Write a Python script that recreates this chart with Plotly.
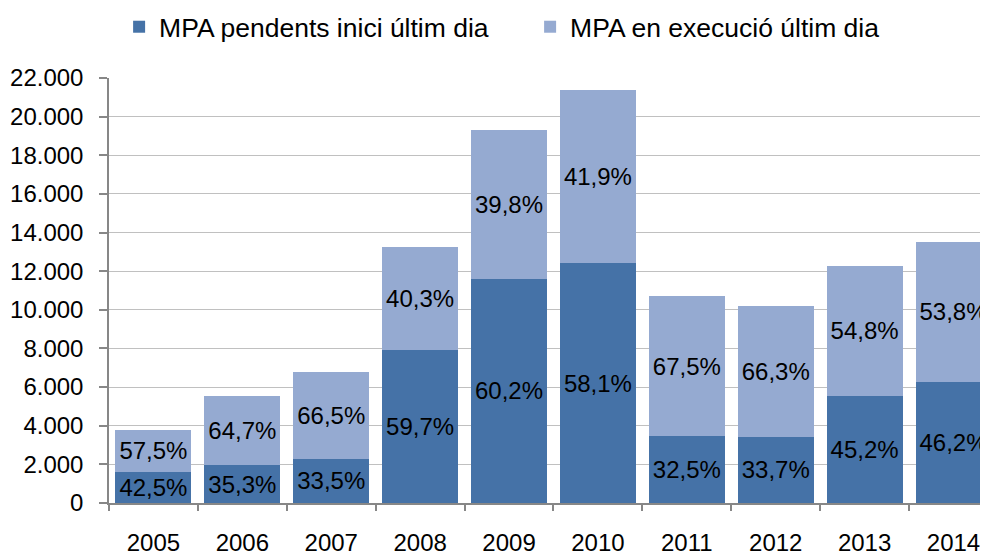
import plotly.graph_objects as go

years = ["2005", "2006", "2007", "2008", "2009", "2010", "2011", "2012", "2013", "2014"]
pendents = [1610, 1960, 2280, 7900, 11620, 12410, 3480, 3440, 5550, 6250]
execucio = [2170, 3580, 4520, 5330, 7690, 8950, 7220, 6780, 6720, 7280]
pct_pendents = ["42,5%", "35,3%", "33,5%", "59,7%", "60,2%", "58,1%", "32,5%", "33,7%", "45,2%", "46,2%"]
pct_execucio = ["57,5%", "64,7%", "66,5%", "40,3%", "39,8%", "41,9%", "67,5%", "66,3%", "54,8%", "53,8%"]
y_ticks = [0, 2000, 4000, 6000, 8000, 10000, 12000, 14000, 16000, 18000, 20000, 22000]

FONT = "Liberation Sans, Arial, sans-serif"

fig = go.Figure()
fig.add_trace(go.Bar(
    x=years, y=pendents, name="MPA pendents inici últim dia",
    marker=dict(color="#4572A7", line=dict(width=0)),
    text=pct_pendents, textposition="inside", insidetextanchor="middle",
    textfont=dict(family=FONT, size=24, color="#000000"),
    hoverinfo="x+y",
))
fig.add_trace(go.Bar(
    x=years, y=execucio, name="MPA en execució últim dia",
    marker=dict(color="#95AAD1", line=dict(width=0)),
    text=pct_execucio, textposition="inside", insidetextanchor="middle",
    textfont=dict(family=FONT, size=24, color="#000000"),
    hoverinfo="x+y",
))

# the page body adds an 8px margin, so the figure is 8px smaller on each side
fig.update_layout(
    width=980, height=546,
    barmode="stack", bargap=0.145,
    plot_bgcolor="#FFFFFF", paper_bgcolor="#FFFFFF",
    margin=dict(l=101, r=0, t=70, b=51, autoexpand=False),
    separators=",.",
    font=dict(family=FONT, size=24, color="#000000"),
    uniformtext=dict(minsize=24, mode="show"),
    showlegend=True,
    legend=dict(
        orientation="h", x=0.0115, xanchor="left", y=1.12, yanchor="middle",
        entrywidth=366, entrywidthmode="pixels",
        font=dict(family=FONT, size=26.5, color="#000000"),
        bgcolor="rgba(0,0,0,0)", traceorder="normal",
    ),
    xaxis=dict(
        type="category", range=[-0.5, 9.388],
        showline=True, linecolor="#878787", linewidth=1.5,
        ticks="outside", tickson="boundaries", ticklen=6, tickcolor="#878787", tickwidth=1.5,
        ticklabelstandoff=17, showgrid=False,
        tickfont=dict(family=FONT, size=24, color="#000000"),
    ),
    yaxis=dict(
        range=[0, 22000], tickvals=y_ticks, tickformat=",.0f",
        showline=True, linecolor="#878787", linewidth=1.5,
        ticks="outside", ticklen=8, tickcolor="#878787", tickwidth=1.5,
        showgrid=True, gridcolor="#C0C0C0", gridwidth=1.3,
        zeroline=False, ticklabelstandoff=11,
        tickfont=dict(family=FONT, size=24, color="#000000"),
    ),
)

fig.write_html("out.html")
